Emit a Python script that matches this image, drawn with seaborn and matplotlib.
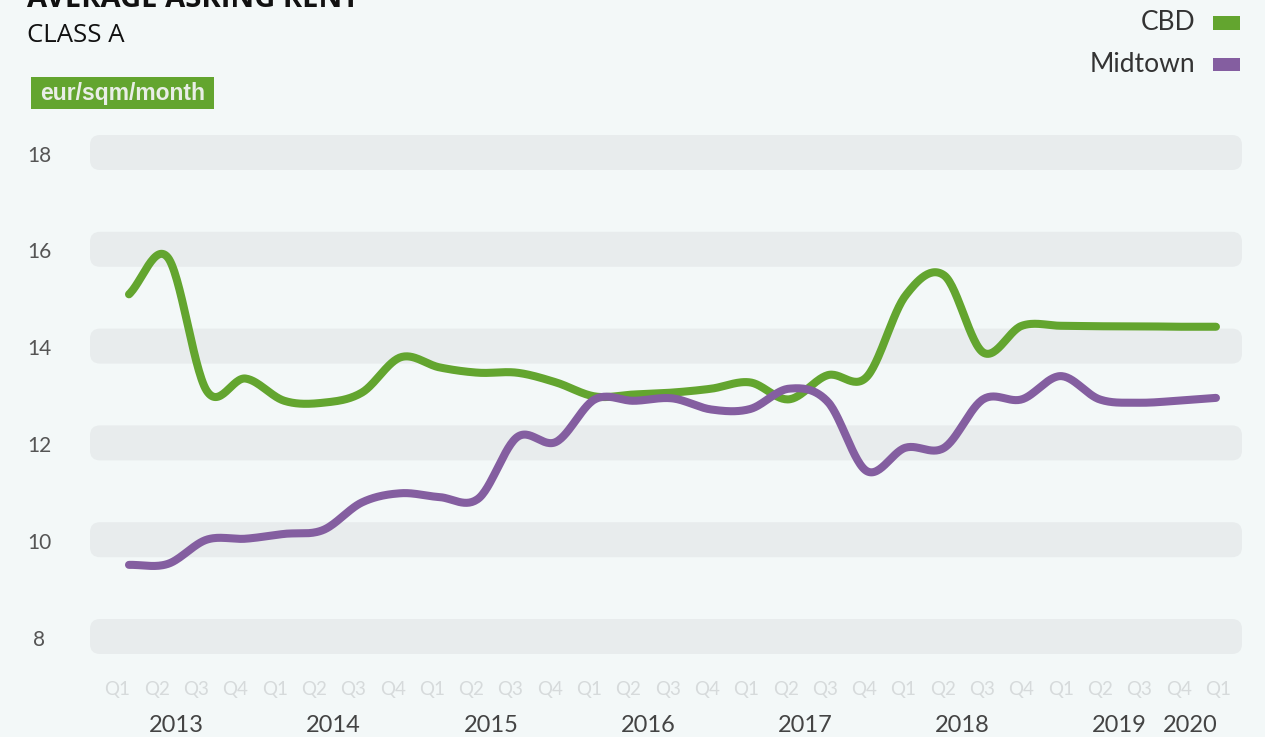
import numpy as np
import pandas as pd
import matplotlib
matplotlib.use("Agg")
import matplotlib.pyplot as plt
from matplotlib.patches import FancyBboxPatch, Rectangle
import seaborn as sns

# ---------------- data ----------------
quarters = ["Q1", "Q2", "Q3", "Q4"] * 7 + ["Q1"]
years = ["2013", "2014", "2015", "2016", "2017", "2018", "2019", "2020"]
series_names = ["CBD", "Midtown"]
cbd = [15.07, 15.83, 13.08, 13.33, 12.87, 12.83, 13.04, 13.77, 13.56, 13.45,
       13.45, 13.25, 12.96, 13.00, 13.04, 13.12, 13.25, 12.90, 13.40, 13.36,
       15.04, 15.46, 13.87, 14.42, 14.42, 14.41, 14.41, 14.40, 14.40]
midtown = [9.48, 9.50, 10.00, 10.02, 10.12, 10.20, 10.77, 10.96, 10.88, 10.85,
           12.12, 12.02, 12.90, 12.87, 12.92, 12.69, 12.70, 13.12, 12.85, 11.42,
           11.90, 11.90, 12.90, 12.90, 13.38, 12.90, 12.83, 12.87, 12.93]
y_ticks = [8, 10, 12, 14, 16, 18]
unit_label = "eur/sqm/month"
title = "AVERAGE ASKING RENT"
subtitle = "CLASS A"

# ---------------- style ----------------
W, H = 1265, 737
BG = "#F3F8F8"
BAND = "#E8ECED"
GREEN = "#63A52F"
PURPLE = "#845EA0"
colors = {"CBD": GREEN, "Midtown": PURPLE}

sns.set_theme(style="white")
plt.rcParams["font.family"] = ["Lato", "DejaVu Sans"]

fig = plt.figure(figsize=(W / 100, H / 100), dpi=100, facecolor=BG)


def px(x, y):
    return x / W, 1 - y / H


# axes: pixel 90..1242 horizontally, 130..660 vertically
ax = fig.add_axes([90 / W, 1 - 660 / H, (1242 - 90) / W, (660 - 130) / H])
ax.set_facecolor(BG)
x0_px, dx_px = 129.0, 38.82
xmin = (90 - x0_px) / dx_px
xmax = (1242 - x0_px) / dx_px
y_c18, y_unit = 152.5, 48.4
ymax = 18 + (y_c18 - 130) / y_unit
ymin = 18 - (660 - y_c18) / y_unit
ax.set_xlim(xmin, xmax)
ax.set_ylim(ymin, ymax)
for s in ax.spines.values():
    s.set_visible(False)
ax.set_xticks([])
ax.set_yticks([])

# rounded bands
band_h = 35 / y_unit
r_x = 10 / dx_px
r_y = 10 / y_unit
for v in y_ticks:
    p = FancyBboxPatch((xmin, v - band_h / 2), xmax - xmin, band_h,
                       boxstyle=f"round,pad=0,rounding_size={r_x}",
                       mutation_aspect=r_y / r_x,
                       facecolor=BAND, edgecolor="none", zorder=0,
                       transform=ax.transData, clip_on=False)
    ax.add_patch(p)
    ax.text(xmin - 51 / dx_px, v - 3 / y_unit, str(v), ha="center",
            va="center", fontsize=15, color="#555555")


# smooth curve (Catmull-Rom) through the read values, for drawing only
def catmull(vals, n=30):
    y = np.asarray(vals, float)
    k = len(y)
    m = np.empty(k)
    m[1:-1] = (y[2:] - y[:-2]) / 2
    m[0] = y[1] - y[0]
    m[-1] = y[-1] - y[-2]
    xs, ys = [], []
    for i in range(k - 1):
        t = np.linspace(0, 1, n, endpoint=(i == k - 2))
        h00 = 2 * t**3 - 3 * t**2 + 1
        h10 = t**3 - 2 * t**2 + t
        h01 = -2 * t**3 + 3 * t**2
        h11 = t**3 - t**2
        ys.append(h00 * y[i] + h10 * m[i] + h01 * y[i + 1] + h11 * m[i + 1])
        xs.append(i + t)
    return np.concatenate(xs), np.concatenate(ys)


frames = []
for name, vals in zip(series_names, [cbd, midtown]):
    xs, ys = catmull(vals)
    frames.append(pd.DataFrame({"x": xs, "value": ys, "series": name}))
df = pd.concat(frames, ignore_index=True)

sns.lineplot(data=df, x="x", y="value", hue="series", palette=colors,
             sort=False, legend=False, linewidth=5.8, ax=ax,
             solid_capstyle="round", zorder=3)
ax.set_xlabel("")
ax.set_ylabel("")

# x labels (quarters and years)
lab_x0, lab_dx = 117.5, 39.3
for i, q in enumerate(quarters):
    xp = lab_x0 + lab_dx * i
    fig.text(*px(xp, 690), q, ha="center", va="center", fontsize=13.5,
             color="#D6DADB")
for k, yr in enumerate(years):
    pos = 4 * k + 1.5 if k < len(years) - 1 else 27.3
    xp = lab_x0 + lab_dx * pos
    fig.text(*px(xp, 725), yr, ha="center", va="center", fontsize=17,
             color="#444444")

# titles
fig.text(*px(27, 7), title, ha="left", va="baseline", fontsize=21,
         fontweight="bold", color="#111111", family=["Open Sans", "DejaVu Sans"])
fig.text(*px(27, 42), subtitle, ha="left", va="baseline", fontsize=18.5,
         color="#111111", family=["Open Sans", "DejaVu Sans"])

# unit label box
bx0, by0 = px(31, 109)
bx1, by1 = px(214, 77)
fig.add_artist(Rectangle((bx0, by0), bx1 - bx0, by1 - by0, facecolor=GREEN,
                         edgecolor="none", transform=fig.transFigure))
fig.text(*px(40, 93.5), unit_label, ha="left", va="center", fontsize=16.5,
         fontweight="bold", color="#E9EEE6",
         family=["Liberation Sans", "DejaVu Sans"])

# legend
for name, yc in zip(series_names, [23, 64]):
    fig.text(*px(1195, yc), name, ha="right", va="center", fontsize=19,
             color="#333333")
    lx0, ly0 = px(1213, yc + 6.5)
    lx1, ly1 = px(1240, yc - 6.5)
    fig.add_artist(Rectangle((lx0, ly0), lx1 - lx0, ly1 - ly0,
                             facecolor=colors[name], edgecolor="none",
                             transform=fig.transFigure))

fig.savefig("out.png", dpi=100, facecolor=BG)
